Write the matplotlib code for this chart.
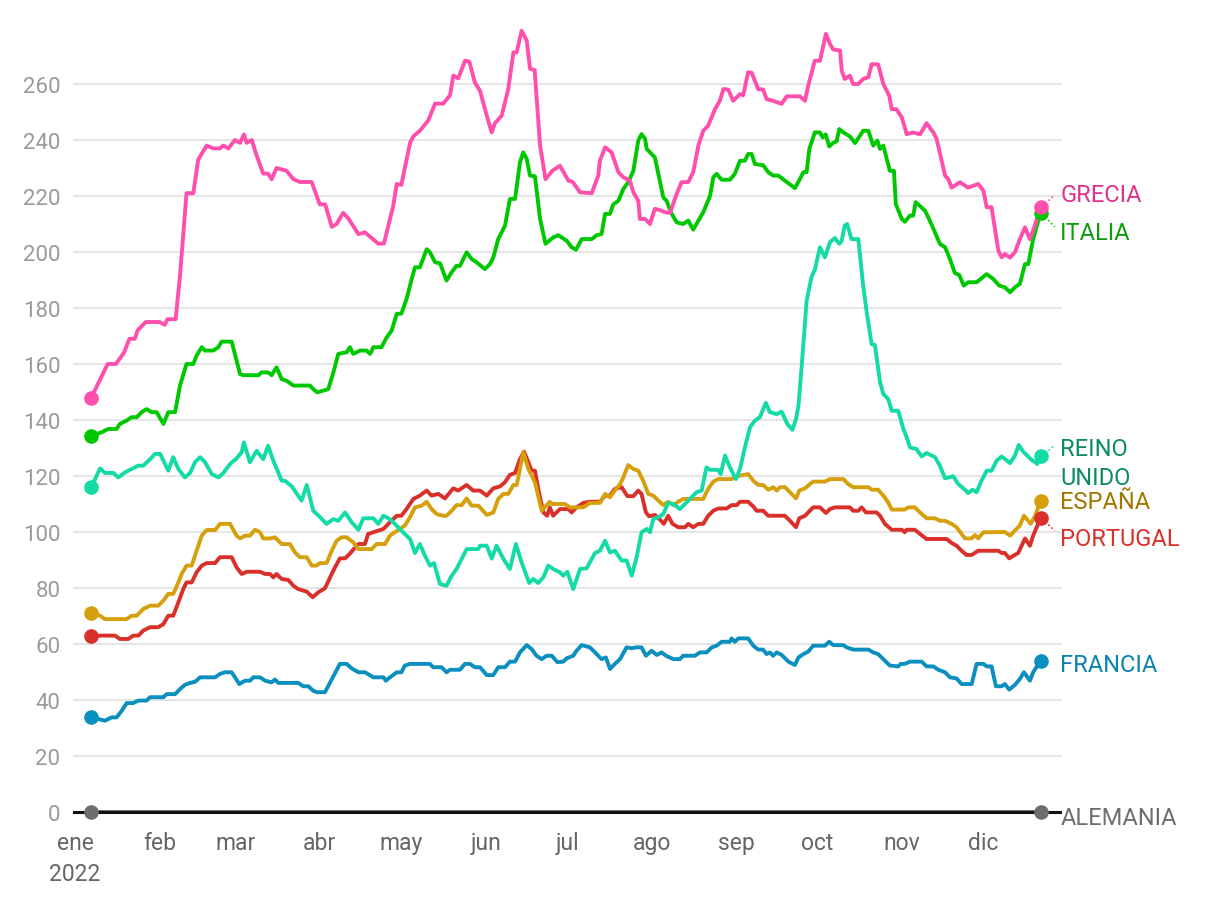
import matplotlib
matplotlib.use('Agg')
import matplotlib.pyplot as plt

plt.rcParams['font.family'] = ['Roboto', 'DejaVu Sans']

# (day of year 2022, value)
grecia = [(6,148),(12,160),(15,160),(18,164),(20,169),(22,169),(23,172),(26,175),(31,175),(33,174),(34,176),(37,176),
          (38.6,191.5),(41,221),(43.5,221),(45.3,233),(48.4,238),(50.8,237),(53.3,237),(54.5,238),(56.4,237),(58.8,240),
          (60.7,239),(62.1,242),(63.1,239),(65,240),(66.8,234.4),(69.2,228),(71,228),(72.3,226),(74.1,230),(77.8,229),
          (80.3,226),(82.7,225),(87,225),(90,217),(92,217),(94.4,209),(96.2,210),(98.6,214),(100.5,212),(104.2,206.4),
          (106.6,207),(111.5,203),(113.6,203),(117,216.5),(118.3,224.3),(120,224),(123.2,239),(124.4,241.3),(126.8,243.3),
          (129.9,247),(132.4,253),(135.4,253),(137.9,256),(139.1,263),(140.9,262),(143.4,268.3),(145,268),(147,260.6),
          (148.9,257.6),(151.4,248.7),(153.2,242.7),(154.4,246),(156.9,248.7),(159.3,258.2),(161.2,271.3),(162.4,271.3),
          (164.2,279),(166.1,275.5),(167.3,265.4),(169,265),(171,238),(173,226),(175.5,229),(178.3,230.8),(181.4,225.5),
          (183,225),(185.7,221.3),(190,221),(192.4,227.3),(193,232.6),(194.9,237.4),(197.3,235.6),(199.8,228.5),
          (201.6,226.7),(204,225.5),(205.3,221.3),(207.1,218.3),(207.7,211.8),(209.6,211.8),(211.4,210),(213.2,215.4),
          (215,215),(216.9,214.2),(218.8,214),(221.2,220.7),(223,224.9),(225.5,225),(227.3,228.5),(229.2,238),(231,243.3),
          (232.8,245.1),(235.3,251),(237.1,254),(238.4,258.2),(240.2,258),(242,254),(244.5,256.4),(245.7,256),(247.5,264.2),
          (248.8,264),(251.2,258.2),(253,258),(254.3,254.6),(256.7,254),(259.8,252.9),(261.7,255.6),(266.5,255.6),(268.4,254),
          (269.6,259.4),(272,268.3),(273.9,268.3),(276.1,277.9),(277.6,274.3),(278.8,272.3),(281.3,272),(281.9,264.8),
          (283,261.8),(284.9,263),(286.1,260),(288,260),(289.8,261.8),(291.7,262.4),(292.9,267.1),(295.3,267),(297.2,260),
          (299.4,255.8),(300.3,251),(302,251),(304,248.1),(305.8,242.1),(308.2,242.7),(310.7,242),(313.1,246),(315.6,242.7),
          (316.8,240.4),(319.9,227.3),(321.1,226),(322.3,223),(325.4,224.9),(328.4,223),(332.1,224.3),(334,221.9),(335.2,216),
          (337,216),(339.5,200.5),(340.7,198.1),(341.9,199.3),(343.8,198),(345.6,199.9),(347.4,204.6),(349.3,208.8),
          (351.1,204.6),(352.9,209.4),(355,216)]

italia = [(6,134.4),(9.8,135.6),(12.2,136.8),(15.3,136.8),(16.5,138.6),(19,139.8),(20.8,141),(22.7,141),(24.5,142.8),
          (26.3,143.9),(28.2,142.8),(30,142.8),(32.5,138.6),(34.3,142.8),(36.8,142.8),(38.6,152.3),(41,160),(43.5,160),
          (44.7,163),(46.6,166),(47.8,164.8),(50.8,164.8),(52.7,166),(53.9,168),(57.6,168),(59.4,161.2),(60.7,156.4),
          (61.9,156),(67.4,156),(68.6,157),(71,157),(72.3,156),(74.1,158.8),(76,154.6),(77.8,154),(80.3,152.3),(86.4,152.3),
          (87.6,151),(89.1,149.9),(93.1,151),(95,157),(96.8,163.6),(99.9,164.2),(101.1,166),(102.3,163.6),(104.8,164.8),
          (107.2,164.8),(108.5,163.6),(109.7,166),(112.7,166),(114.6,169.5),(116.4,171.9),(118.3,177.9),(120,178),
          (121.9,183.2),(123.8,190.4),(125,194.5),(126.8,194.5),(129.3,201),(130.5,199.9),(132.4,196.3),(134.2,196),
          (136.6,189.8),(138.5,192.8),(140.3,195.1),(141.5,195),(144,199.9),(145.8,197.5),(147.7,196.3),(150.7,193.9),
          (152.6,195.7),(153.8,198.1),(155.6,204.6),(158.1,209.4),(159.9,218.9),(161.8,219),(163.6,232),(164.8,235.6),
          (166.1,233.2),(167.3,227.3),(169.1,227),(171,211.8),(173,202.9),(175.8,205.2),(177.7,206),(180.8,204),
          (182.6,201.7),(184.2,200.8),(186.3,204.6),(190,204.6),(191.8,206),(193.6,206.4),(194.9,213.6),(196.7,213.6),
          (197.9,217),(199.8,218.3),(201.6,222.5),(203.4,224.9),(205.3,229),(207.1,239.8),(208.3,242.1),(209.6,240.4),
          (210.2,236.8),(213.2,233.8),(216.3,219.5),(217.5,218.3),(219.4,213.6),(221.2,210.6),(223.6,210),(225.5,211.2),
          (227.3,208),(229.2,211.2),(231,214.2),(232.2,217),(233.5,220.1),(234.7,226.7),(235.9,227.9),(237.8,225.8),
          (240.8,225.8),(242.6,227.9),(244.5,232.6),(246.3,232.6),(247.5,235),(248.8,235),(250,231.4),(253,231),
          (254.9,228.5),(256.7,227.3),(258.6,227.3),(261,225.5),(264.7,222.8),(266.5,226),(267.8,228.5),(269,228.5),
          (270,236.8),(272,242.7),(273.9,242.7),(274.9,240.9),(276,242),(277.3,237.7),(278.8,239),(280,239.5),(281,243.9),
          (282.5,242.7),(284.9,241.3),(286.8,238.9),(289.8,243.3),(291.7,243.3),(293.5,238),(295,239.8),(296,236.8),
          (297.2,238),(299.6,229),(301.1,229),(301.8,217.1),(304,211.8),(305.1,210.8),(307,213),(308.2,213),(309.1,217.8),
          (312.5,214.8),(314.3,211.2),(316.2,207),(318,202.9),(319.9,201.7),(321.7,197.5),(323.5,192.5),(325.1,191.8),
          (326.8,188),(328.4,189.2),(331.5,189.2),(335.2,192.1),(337.6,190.4),(339.8,188),(341.9,187.4),(343.8,185.6),
          (345.6,187.4),(347.4,188.6),(349.3,195.7),(350.5,195.7),(352.3,204.6),(355,214)]

reino_unido = [(6,116),(9.2,122.7),(11,121.1),(14.1,121.1),(15.9,119.5),(18.4,121.3),(20.8,122.5),(23.3,123.7),(25.1,123.7),
               (27.6,126),(29.4,127.9),(31.3,127.9),(34.3,121.9),(36.1,126.7),(38,122.5),(40.4,119.5),(42.3,121.1),(44.1,124.9),
               (46,126.7),(47.8,124.9),(50.3,120.7),(52.7,119.5),(54.5,121),(57,124.3),(59.4,126.3),(61.3,128.5),(62.1,132),
               (64.3,124.9),(66.8,129),(69.2,126),(71,130.8),(72.9,125.5),(76,118.3),(77.2,118.3),(79.7,116.3),(83.3,111.2),
               (85.2,116.8),(87.6,107.6),(90.1,105.3),(92.5,102.9),(95,104.6),(96.8,104),(99.3,107),(101.7,103.5),(104.2,100.8),
               (106,104.9),(109.7,104.9),(111.5,102.9),(113.4,105.8),(115.8,104.6),(117.6,102.9),(120,100.5),(123.2,97.5),
               (125,92.5),(126.8,95.7),(128.7,91.5),(130.5,88),(132,88.9),(134.2,81.4),(136.6,80.8),(138.5,84.4),(140.3,86.8),
               (144,93.9),(148.3,93.9),(148.9,95.1),(151.4,95.1),(153.2,90.5),(155,95.1),(157.5,90.4),(159.9,86.8),(162.1,95.7),
               (164.2,89.2),(167,81.8),(168.5,83.2),(170.3,81.8),(172.2,83.8),(174,88),(175.8,86.8),(178.3,85.6),(179.5,84.4),
               (181,85.8),(183.2,79.6),(185.7,86.8),(188.1,87),(191.2,92.5),(193,93.3),(194.9,96.9),(196.7,92.7),(198.5,93.3),
               (201,89.8),(202.8,89.8),(204.7,84.4),(206.5,91),(208.3,99.9),(210.2,101.1),(211.4,99.9),(212.6,104.6),
               (214.5,105.3),(216.3,106.4),(218.1,110.4),(220,110),(222.4,108.2),(224.9,110.6),(228.5,114.2),(230.4,114.8),
               (232.2,123.1),(233.5,122.2),(236.5,122.2),(237.4,120.7),(239,127.3),(240.8,123.1),(243,118.9),(244.5,122.5),
               (246.3,130.2),(248.2,137.4),(250,139.8),(251.8,141),(254,146.1),(255.5,142.8),(258,142.1),(259.8,143),
               (261.9,138.6),(263.8,136.5),(265.1,140.4),(266,145.1),(267.2,159.4),(269,182.6),(270.8,191),(272.1,193.9),
               (273.9,201.7),(275.7,198.1),(277.6,203.5),(279.4,205),(281,202.9),(281.9,204),(283,209.4),(283.9,210),
               (285.5,204.6),(288,204.6),(289.8,188),(291.1,178.5),(292.9,167.1),(294.1,166.8),(296,153.5),(297.2,149.3),
               (299,147.5),(300.3,143.3),(302.7,143.3),(304.5,137),(305.8,133.8),(307,130.2),(309.4,129.6),(311.3,127),
               (313.1,128.2),(316.2,126.7),(318,123.7),(319.9,119.2),(322.9,119.9),(324.8,117.1),(327.2,115.1),(328.4,113.9),
               (330,115.1),(331.5,114.2),(333.3,118.3),(335.2,121.9),(337,121.9),(338.9,125.5),(340.7,127),(343.8,124.6),
               (345.6,127.3),(347,131.1),(348.6,128.7),(351.7,125.8),(353.8,124.3),(355,127)]

espana = [(6,71),(9.2,70.1),(11,68.9),(19,68.9),(20.8,70.1),(22.7,70.1),(25.1,72.5),(27.6,73.7),(30.6,73.7),(32.5,75.5),
          (34.3,77.9),(36.1,77.9),(38,82),(39.2,85),(41,88),(42.9,88),(44.7,93.3),(46.6,98.7),(48.4,100.7),(51.5,100.7),
          (53.3,102.9),(57,102.9),(59.4,98.7),(60.7,97.7),(62.5,98.7),(64.3,98.7),(66.2,100.8),(68,99.9),(69.2,97.7),
          (71.7,97.7),(73.5,98.1),(76,95.7),(79,95.7),(80.9,92.7),(82.7,91),(85.2,91),(87,88),(88.8,88),(90.1,88.9),
          (92.5,88.9),(94.4,93.3),(96.2,96.9),(98,98.1),(99.9,98.1),(102.3,96.3),(104.2,93.9),(109.1,93.9),(110.9,95.7),
          (114,95.7),(115.8,98.7),(117.6,99.9),(119.5,101.1),(121.3,102.3),(123.2,105.3),(125,108.8),(127.5,109.4),
          (129.3,110.8),(131.1,108.2),(133,106.4),(135.4,105.8),(136.6,105.8),(138.5,107.6),(140.3,109.6),(142.2,109.6),
          (144,112),(145.8,109.4),(148.3,109.4),(151.4,106.1),(153.8,107),(155.6,111.8),(157.5,113.6),(159.3,113.6),
          (161.2,116.8),(162.4,116.8),(163.6,122.5),(164.8,128.5),(166.7,122.5),(169.1,117.8),(171.6,107.6),(173.4,109.6),
          (174.6,110.8),(175.5,110),(180.1,110),(182,108.8),(186.9,108.8),(189.3,110.4),(193,110.4),(194.9,113.6),
          (196.7,112.4),(198.5,114.8),(200.4,117.1),(201.6,119.5),(203.4,123.9),(205.3,122.5),(207.1,121.9),(208.9,118.3),
          (210.8,113.6),(212.6,113),(214.5,111.2),(216.3,109.6),(218.1,110.8),(220,109.6),(221.8,110.8),(223.6,111.8),
          (231,111.8),(232.8,115.4),(234.7,118),(236.5,118.9),(241.4,118.9),(243.3,119.9),(247.5,120.7),(249.4,118.3),
          (251.2,116.8),(253,116.8),(254.9,115.1),(256.7,116),(258,114.8),(259.2,116),(261,116),(262.9,114.2),(265.1,112),
          (266.3,114.8),(268.4,115.6),(270.2,117.1),(271.4,118),(275.7,118),(277.6,118.9),(282.5,118.9),(284.3,117.1),
          (286.1,116),(291.7,116),(292.9,115.1),(295.3,115.1),(297.2,113),(299,110.6),(300.3,108),(305.1,108),(306.4,108.8),
          (308.8,108.8),(310.7,107),(313.1,104.9),(316.2,104.9),(318,104),(319.9,104),(322.3,102.9),(324.1,101.7),
          (326,99.3),(327.2,97.7),(329.7,97.7),(330.9,98.9),(332.1,97.7),(334,99.9),(341.9,100),(343.8,98.7),(345.6,100.5),
          (347.4,102.3),(348.9,105.8),(350.5,104),(351.4,102.9),(353,105.8),(355,111)]

portugal = [(6,62.7),(9.2,63),(14.7,63),(16.5,61.8),(19.6,61.8),(21.4,63),(23.3,63),(25.1,64.8),(27.6,66),(30.6,66),
            (32.5,67.1),(34.3,70.1),(36.1,70.1),(38,74.9),(39.8,79.6),(41,82),(42.9,82),(44.7,85.6),(46.6,88),(48.4,88.9),
            (51.5,88.9),(53.3,91),(57.6,91),(59.4,87.4),(61.3,85),(63.1,85.8),(68,85.8),(69.9,85),(71.7,85),(72.9,83.8),
            (74.1,85),(76,83.2),(78.4,82.9),(80.3,80.8),(82.1,79.6),(85.2,78.7),(87.4,76.7),(89.5,78.5),(91.9,79.9),
            (93.8,83.8),(95.6,87.4),(97.4,90.6),(99.3,90.6),(100.9,92.1),(102.3,93.7),(104.2,95.7),(106.6,95.7),(107.8,99.3),
            (109.7,99.9),(111.5,100.5),(113.4,101.1),(115.8,103.5),(118.3,105.8),(120,105.8),(121.9,108.2),(124.4,111.8),
            (126.8,113),(129.3,114.8),(131.1,113),(133.6,113.6),(136,112),(139.1,115.6),(140.9,114.8),(144,116.8),
            (146.4,114.8),(148.9,114.8),(151.4,113),(153.8,115.6),(156.3,116.3),(158.1,117.8),(159.9,120.4),(161.8,121.1),
            (163.6,126),(165.1,128.7),(166.7,124.9),(167.9,121.9),(169.1,121.9),(170.7,113.6),(172.2,107),(173.6,105.8),
            (174.6,108.8),(175.8,105.8),(178.3,108.2),(181.4,108.2),(182.6,107),(184.4,108.8),(186.9,110.4),(189.3,110.8),
            (193,110.8),(194.9,113),(196.7,113),(198.5,115.4),(201,116),(203.1,112.8),(205.3,112.8),(207.1,114.8),
            (208.3,113.6),(209.9,107),(211.1,105.6),(213.2,106.1),(215.1,104.4),(216.5,102.9),(218.1,105.8),(219.7,102.9),
            (221.8,101.7),(224.3,101.7),(225.5,102.9),(227.3,101.7),(229.2,102.9),(231,102.9),(232.8,105.8),(234.7,107.6),
            (236.5,108.4),(239.6,108.4),(241.4,109.6),(243.3,109.6),(244.5,110.8),(247.5,110.8),(249.4,109.1),(250.6,107.6),
            (253,107.6),(254.9,105.8),(261,105.8),(262.9,104),(265.1,101.7),(266.3,104.9),(268.4,105.8),(271.4,108.8),
            (273.9,108.8),(276.1,106.8),(277.6,108.2),(279.4,108.8),(284.9,108.8),(286.1,107.6),(288,107.6),(289.2,108.8),
            (290.8,107),(294.7,107),(296,105.8),(297.8,102.9),(300.3,100.8),(304,100.8),(305.1,99.9),(305.8,100.8),
            (308.8,100.8),(310.7,99.3),(313.1,97.5),(320.5,97.5),(322.3,96.1),(324.1,95.1),(326,93.3),(327.8,91.8),
            (329.7,91.8),(332.1,93.3),(339.5,93.3),(340.7,92.5),(341.9,92.5),(343.5,90.6),(345,91.5),(346.8,92.5),
            (349.3,97.7),(351.1,95.1),(352.3,98.7),(355,105)]

francia = [(6,33.8),(8.6,33.2),(11,32.6),(13.5,33.8),(15.3,33.8),(17.2,36.2),(19,38.9),(21.4,38.9),(23.3,39.8),(26.3,39.8),
           (27.6,41),(32.5,41),(33.7,42.1),(36.8,42.1),(38.6,43.9),(40.4,45.4),(42.3,46.1),(44.1,46.5),(46,48.1),(51.5,48.1),
           (53.3,49.3),(55.1,49.9),(57.6,49.9),(58.8,48.1),(60.4,45.7),(62.5,46.9),(64.3,46.9),(65.6,48.1),(68,48.1),
           (69.9,46.9),(72.3,46.3),(73.5,47.3),(74.8,46.1),(82.1,46.1),(83.9,44.9),(85.8,44.9),(87.6,43.3),(88.9,42.8),
           (91.9,42.8),(93.8,46.3),(97.4,52.9),(99.9,52.9),(101.7,51.3),(104.2,49.9),(106.6,49.9),(109.7,48.1),(113.4,48.1),
           (114.3,46.9),(115.8,48.1),(118.3,49.9),(120,49.9),(121.3,52.3),(123.2,52.9),(130.5,52.9),(131.7,51.7),
           (134.8,51.7),(136.6,49.9),(137.9,50.8),(141.5,50.8),(143.4,52.9),(145.2,52.9),(147,51.7),(148.9,51.7),
           (151.4,48.9),(153.8,48.9),(155.6,51.7),(158.1,51.7),(159.9,53.7),(161.8,53.7),(163.6,57),(166.1,59.6),
           (167.9,58.2),(169.7,55.8),(171.6,54.6),(173.4,55.8),(175.3,55.8),(177.4,53.5),(179.5,53.7),(180.8,54.9),
           (183.2,55.8),(184.4,57.6),(186.3,59.6),(189.3,58.8),(191.2,57),(193.6,54.6),(195.2,55.2),(196.7,51.1),
           (198.5,52.9),(200.4,54.6),(202.8,58.8),(204.7,58.5),(206.5,58.8),(208.3,58.8),(209.9,55.8),(212,57.6),
           (213.9,56.1),(215.7,57),(217.3,55.8),(220,54.6),(222.4,54.6),(223.6,55.8),(227.9,55.8),(229.8,57),(232.2,57),
           (234.1,58.8),(235.9,59.4),(237.8,60.8),(240.8,60.8),(241.4,62),(242.6,60.8),(243.9,62),(247.5,62),(249.4,59.4),
           (251.2,58),(253,58),(254.3,56.4),(255.5,57),(256.7,55.8),(258,57),(259.8,56.1),(262.3,53.7),(264.7,52.5),
           (266,55.2),(267.8,56.4),(269.6,57.3),(271.4,59.4),(275.7,59.4),(277.3,60.8),(278.8,59.6),(282.5,59.6),
           (283.7,58.8),(286.1,58),(291.7,58),(293.5,57),(295.3,56.4),(297.2,54.6),(299.6,52.3),(302.7,52),(303.6,52.9),
           (305.1,52.9),(307,53.7),(311.3,53.7),(313.1,52),(315.6,52),(317.4,50.8),(319.9,49.9),(321.7,48.1),(324.1,47.7),
           (326,45.7),(329.7,45.7),(331.5,52.9),(334,52.9),(335.2,52),(337,52),(338.6,44.9),(340.7,44.9),(341.9,45.7),
           (343.5,43.7),(345.6,45.4),(347.4,47.5),(348.9,49.9),(351.1,46.9),(352.3,49.9),(355,54)]

alemania = [(6,0),(355,0)]

month_days = [0, 31, 59, 90, 120, 151, 181, 212, 243, 273, 304, 334]
month_labels = ['ene\n2022', 'feb', 'mar', 'abr', 'may', 'jun', 'jul', 'ago', 'sep', 'oct', 'nov', 'dic']

# name, data, line colour, label colour, label y, connector end y
series = [
    ('ALEMANIA', alemania, '#6e6e6e', '#6e6e6e', -1.8, None),
    ('FRANCIA', francia, '#0b8fbf', '#0a83b0', 52.5, None),
    ('PORTUGAL', portugal, '#d9302a', '#d9302a', 97.5, 100.5),
    ('ESPAÑA', espana, '#d6a00c', '#a07800', 111, None),
    ('REINO\nUNIDO', reino_unido, '#14dba6', '#0c8a63', 124.6, 131),
    ('ITALIA', italia, '#00c800', '#109a10', 206.8, 209),
    ('GRECIA', grecia, '#ff4fad', '#e0338f', 220.4, 220.4),
]

fig = plt.figure(figsize=(12.2, 9.04), dpi=100)
ax = fig.add_axes([73/1220, 77/904, 989/1220, 812/904])
ax.set_xlim(-0.74, 362.9)
ax.set_ylim(-5, 285)

for s in ax.spines.values():
    s.set_visible(False)
ax.set_yticks(range(0, 261, 20))
ax.set_xticks(month_days)
ax.set_xticklabels(month_labels)
ax.tick_params(axis='y', length=0, pad=9, labelsize=16, labelcolor='#9a9a9a')
ax.tick_params(axis='x', length=0, pad=3.5, labelsize=16.5, labelcolor='#666666')
for lab in ax.get_xticklabels():
    lab.set_linespacing(1.45)
for v in range(20, 261, 20):
    ax.axhline(v, color='#e3e3e3', lw=1.3, zorder=0)
ax.axhline(0, color='#111111', lw=2.2, zorder=3)

for name, data, col, lcol, ly, cy in series:
    xs = [d for d, v in data]
    ys = [v for d, v in data]
    ax.plot(xs, ys, color=col, lw=2.8, solid_joinstyle='round', zorder=4 if name != 'ALEMANIA' else 2)
    ax.plot([xs[0], xs[-1]], [ys[0], ys[-1]], 'o', color=col, ms=9.5, zorder=5)
    if cy is not None:
        ax.plot([xs[-1] + 1.8, 360.2], [ys[-1] + (cy - ys[-1]) * 0.3, cy], ls=(0, (1, 1.5)),
                color=col, lw=1.2, clip_on=False, zorder=5)
    ax.text(362.3, ly, name, color=lcol, fontsize=17, va='center', ha='left',
            linespacing=1.3, clip_on=False)

fig.savefig('out.png', dpi=100)
